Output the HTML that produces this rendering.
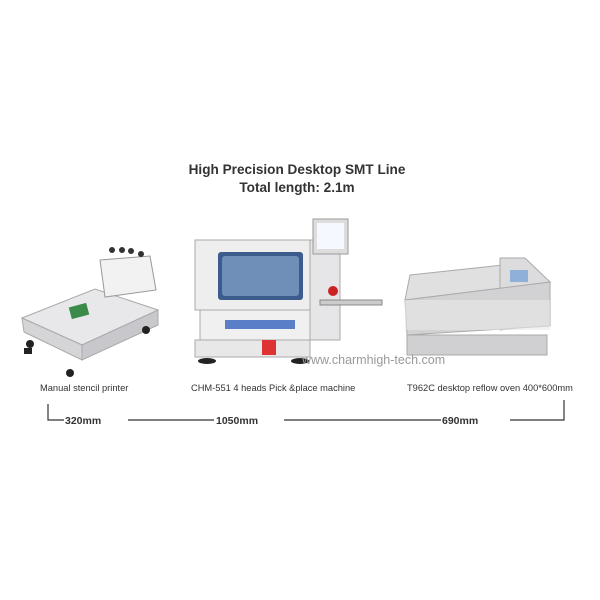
<!DOCTYPE html>
<html><head><style>
body{margin:0;background:#fff;}
svg{display:block;}
text{font-family:"Liberation Sans",sans-serif;}
</style></head><body>
<svg width="600" height="600" viewBox="0 0 600 600">
<text x="297" y="174" text-anchor="middle" font-size="13.6" font-weight="bold" fill="#333">High Precision Desktop SMT Line</text>
<text x="297" y="192" text-anchor="middle" font-size="13.6" font-weight="bold" fill="#333">Total length: 2.1m</text>

<!-- stencil printer -->
<polygon points="22,318 95,289 158,310 82,345" fill="#e8e8ea" stroke="#aaa"/>
<polygon points="22,318 82,345 82,360 24,332" fill="#d5d5d8" stroke="#aaa"/>
<polygon points="82,345 158,310 158,325 82,360" fill="#c8c8cc" stroke="#aaa"/>
<polygon points="100,260 150,256 156,290 105,297" fill="#f2f2f2" stroke="#999"/>
<g fill="#333"><circle cx="112" cy="250" r="3"/><circle cx="122" cy="250" r="3"/><circle cx="131" cy="251" r="3"/><circle cx="141" cy="254" r="3"/></g>
<rect x="70" y="305" width="18" height="12" fill="#3a8a4a" transform="rotate(-15 79 311)"/>
<circle cx="70" cy="373" r="4" fill="#222"/><circle cx="146" cy="330" r="4" fill="#222"/><circle cx="30" cy="344" r="4" fill="#222"/>
<rect x="24" y="348" width="8" height="6" fill="#222"/>

<!-- pick and place -->
<rect x="195" y="240" width="115" height="70" fill="#eeeeef" stroke="#aaa"/>
<rect x="218" y="252" width="85" height="48" rx="3" fill="#3b5c8c"/>
<rect x="222" y="256" width="77" height="40" rx="3" fill="#6f8fb8"/>
<rect x="310" y="240" width="30" height="100" fill="#e6e6e8" stroke="#aaa"/>
<rect x="313" y="219" width="35" height="35" fill="#ddd" stroke="#999"/>
<rect x="317" y="223" width="27" height="26" fill="#f5f8ff"/>
<circle cx="333" cy="291" r="5" fill="#c22"/>
<rect x="320" y="300" width="62" height="5" fill="#ccc" stroke="#888"/>
<rect x="200" y="310" width="110" height="30" fill="#f0f0f0" stroke="#aaa"/>
<rect x="225" y="320" width="70" height="9" fill="#5a7fc8"/>
<rect x="195" y="340" width="115" height="17" fill="#e8e8e8" stroke="#aaa"/>
<rect x="262" y="340" width="14" height="15" fill="#d33"/>
<ellipse cx="207" cy="361" rx="9" ry="3" fill="#222"/><ellipse cx="300" cy="361" rx="9" ry="3" fill="#222"/>

<!-- oven -->
<polygon points="410,275 522,263 550,282 405,300" fill="#e0e0e0" stroke="#aaa"/>
<polygon points="500,258 525,258 550,282 545,325 500,330" fill="#dcdcde" stroke="#aaa"/>
<rect x="510" y="270" width="18" height="12" fill="#8fb0d8"/>
<polygon points="405,300 550,282 550,326 407,335" fill="#d2d2d4" stroke="#aaa"/>
<rect x="405" y="300" width="145" height="30" fill="#eaeaea" opacity=".6"/>
<rect x="436" y="351" width="25" height="3" fill="#444"/><rect x="495" y="350" width="25" height="3" fill="#444"/>
<rect x="407" y="335" width="140" height="20" fill="#d0d0d2" stroke="#aaa"/>
<text x="302" y="364" font-size="12.5" fill="#999">www.charmhigh-tech.com</text>

<text x="40" y="391" font-size="9.3" fill="#333">Manual stencil printer</text>
<text x="191" y="391" font-size="9.3" fill="#333">CHM-551 4 heads Pick &amp;place machine</text>
<text x="407" y="391" font-size="9.3" fill="#333">T962C desktop reflow oven 400*600mm</text>

<g stroke="#333" stroke-width="1.2" fill="none">
<path d="M48,404 V420 H64"/><path d="M128,420 H214"/><path d="M284,420 H441"/><path d="M510,420 H564 V400"/>
</g>
<text x="65" y="424" font-size="10.5" font-weight="bold" fill="#333">320mm</text>
<text x="216" y="424" font-size="10.5" font-weight="bold" fill="#333">1050mm</text>
<text x="442" y="424" font-size="10.5" font-weight="bold" fill="#333">690mm</text>
</svg>
</body></html>
